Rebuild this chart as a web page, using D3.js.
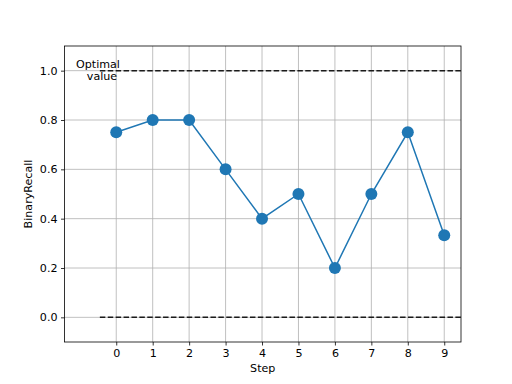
<!DOCTYPE html>
<html><head><meta charset="utf-8">
<script src="https://cdn.jsdelivr.net/npm/d3@7"></script>
<style>body{margin:0;background:#fff}svg{display:block}text{font-family:"DejaVu Sans",sans-serif}</style>
</head><body>
<svg id="c" width="512" height="384"></svg>
<script>
const steps = [0,1,2,3,4,5,6,7,8,9];
const recall = [0.75,0.8,0.8,0.6,0.4,0.5,0.2,0.5,0.75,0.333];
const yTicks = [0.0,0.2,0.4,0.6,0.8,1.0];
const refLines = [1.0, 0.0];
const refLabel = ["Optimal","value"];

const svg = d3.select("#c");
const L=64.5,R=461,T=46,B=342;
const x = d3.scaleLinear().domain([-1.42,9.46]).range([L,R]);
const y = d3.scaleLinear().domain([-0.1,1.1]).range([B,T]);
const fs = 11.1;

svg.append("defs").append("clipPath").attr("id","cl").append("rect")
  .attr("x",L).attr("y",T).attr("width",R-L).attr("height",B-T);

// grid
const g = svg.append("g");
g.selectAll(".gx").data(steps).enter().append("line")
  .attr("x1",d=>x(d)).attr("x2",d=>x(d)).attr("y1",T).attr("y2",B)
  .attr("stroke","#b0b0b0").attr("stroke-width",0.8);
g.selectAll(".gy").data(yTicks).enter().append("line")
  .attr("x1",L).attr("x2",R).attr("y1",d=>y(d)).attr("y2",d=>y(d))
  .attr("stroke","#b0b0b0").attr("stroke-width",0.8);

// reference lines
svg.append("g").attr("clip-path","url(#cl)").selectAll("line").data(refLines).enter().append("line")
  .attr("x1",x(-0.45)).attr("x2",x(9.6)).attr("y1",d=>y(d)).attr("y2",d=>y(d))
  .attr("stroke","#1a1a1a").attr("stroke-width",1.5).attr("stroke-dasharray","5.5,2.4");

// data line
const line = d3.line().x((d,i)=>x(steps[i])).y(d=>y(d));
svg.append("path").datum(recall).attr("d",line).attr("fill","none")
  .attr("stroke","#1f77b4").attr("stroke-width",1.5);
svg.selectAll(".pt").data(recall).enter().append("circle")
  .attr("cx",(d,i)=>x(steps[i])).attr("cy",d=>y(d)).attr("r",6)
  .attr("fill","#1f77b4");

// text label
svg.append("text").attr("x",98).attr("y",68).attr("text-anchor","middle")
  .attr("font-size",fs).text(refLabel[0]);
svg.append("text").attr("x",102).attr("y",80).attr("text-anchor","middle")
  .attr("font-size",fs).text(refLabel[1]);

// axes
const xa = svg.append("g").attr("transform",`translate(0,${B})`)
  .call(d3.axisBottom(x).tickValues(steps).tickFormat(d3.format("d")).tickSize(3.5).tickPadding(3.5));
const ya = svg.append("g").attr("transform",`translate(${L},0)`)
  .call(d3.axisLeft(y).tickValues(yTicks).tickFormat(d3.format(".1f")).tickSize(3.5).tickPadding(3.5));
[xa,ya].forEach(a=>{a.select(".domain").remove();
  a.selectAll("text").attr("font-size",fs).attr("fill","#000").attr("font-family","DejaVu Sans");
  a.selectAll("line").attr("stroke","#000").attr("stroke-width",0.8);});

svg.append("rect").attr("x",L).attr("y",T).attr("width",R-L).attr("height",B-T)
  .attr("fill","none").attr("stroke","#000").attr("stroke-width",0.8);

svg.append("text").attr("x",(L+R)/2).attr("y",372).attr("text-anchor","middle")
  .attr("font-size",fs).text("Step");
svg.append("text").attr("transform",`translate(32,${(T+B)/2}) rotate(-90)`)
  .attr("text-anchor","middle").attr("font-size",fs).text("BinaryRecall");
</script>
</body></html>
